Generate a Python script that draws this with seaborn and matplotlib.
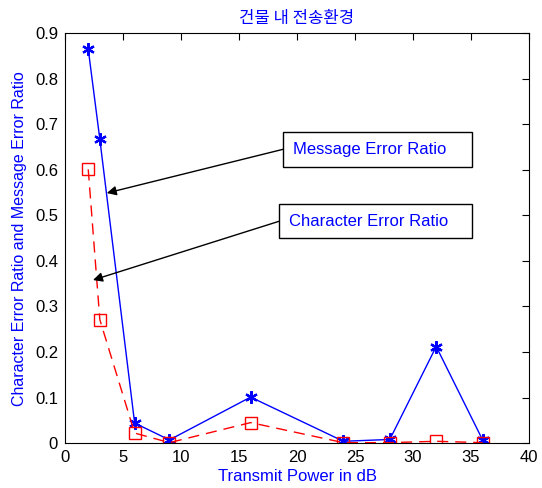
import matplotlib
matplotlib.use("Agg")
import matplotlib.pyplot as plt
from matplotlib.patches import Rectangle
import seaborn as sns
import pandas as pd

# Data
power_db = [2, 3, 6, 9, 16, 24, 28, 32, 36]
message_err = [0.865, 0.667, 0.044, 0.007, 0.101, 0.004, 0.008, 0.212, 0.007]
char_err = [0.601, 0.271, 0.022, 0.001, 0.045, 0.001, 0.001, 0.004, 0.001]

x_ticks = [0, 5, 10, 15, 20, 25, 30, 35, 40]
y_ticks = [0, 0.1, 0.2, 0.3, 0.4, 0.5, 0.6, 0.7, 0.8, 0.9]

sns.set_style("white")
plt.rcParams['font.family'] = ['Liberation Sans', 'Noto Sans CJK KR', 'DejaVu Sans']

df = pd.DataFrame({"power": power_db, "msg": message_err, "char": char_err})

fig = plt.figure(figsize=(5.42, 4.88), dpi=100)
ax = fig.add_axes([0.12, 0.092, 0.856, 0.84])

sns.lineplot(data=df, x="power", y="msg", ax=ax, color="blue", lw=1,
             marker=(6, 2, 0), markersize=9, markeredgewidth=1.6,
             markeredgecolor="blue")
sns.lineplot(data=df, x="power", y="char", ax=ax, color="red", lw=1,
             linestyle=(0, (8, 5)), marker="s", markersize=9,
             markerfacecolor="none", markeredgecolor="red", markeredgewidth=1)

ax.set_xlim(0, 40)
ax.set_ylim(0, 0.9)
ax.set_xticks(x_ticks)
ax.set_yticks(y_ticks)
ax.set_xticklabels([str(t) for t in x_ticks])
ax.set_yticklabels(["0"] + [f"{t:.1f}" for t in y_ticks[1:]])
ax.tick_params(direction="in", top=True, right=True, length=5, width=0.8,
               labelsize=12, colors="black")
ax.tick_params(axis="x", pad=5)
ax.tick_params(axis="y", pad=5)
for s in ax.spines.values():
    s.set_color("black")
    s.set_linewidth(0.8)

ax.set_xlabel("Transmit Power in dB", color="blue", fontsize=12, labelpad=3)
ax.set_ylabel("Character Error Ratio and Message Error Ratio", color="blue",
              fontsize=11.5, labelpad=6)
ax.set_title("건물 내 전송환경", color="blue", fontsize=12, pad=7,
             family=['Noto Sans CJK KR', 'DejaVu Sans'])

# text boxes with arrows
arrow = dict(arrowstyle="-|>", color="black", lw=1, mutation_scale=14,
             shrinkA=0, shrinkB=0)
ax.add_patch(Rectangle((18.79, 0.606), 16.3, 0.077, fc="white", ec="black",
                       lw=1, zorder=5))
ax.text(19.66, 0.645, "Message Error Ratio", color="blue", fontsize=12,
        ha="left", va="center", zorder=6)
ax.annotate("", xy=(3.6, 0.549), xytext=(18.79, 0.645), arrowprops=arrow)

ax.add_patch(Rectangle((18.45, 0.45), 16.64, 0.075, fc="white", ec="black",
                       lw=1, zorder=5))
ax.text(19.31, 0.487, "Character Error Ratio", color="blue", fontsize=12,
        ha="left", va="center", zorder=6)
ax.annotate("", xy=(2.41, 0.358), xytext=(18.45, 0.487), arrowprops=arrow)

fig.savefig("out.png", dpi=100)
